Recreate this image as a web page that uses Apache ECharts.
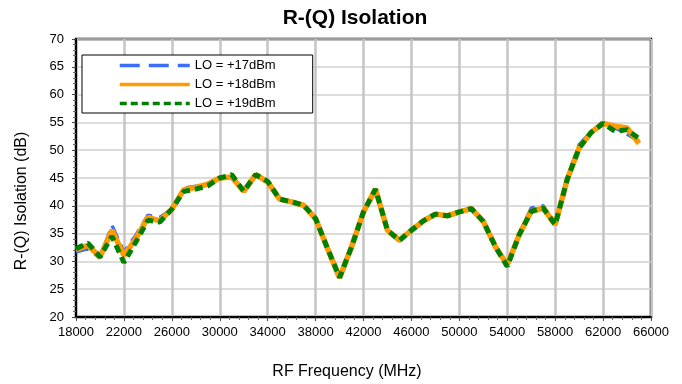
<!DOCTYPE html>
<html>
<head>
<meta charset="utf-8">
<script src="https://cdn.jsdelivr.net/npm/echarts@6/dist/echarts.min.js"></script>
<style>html,body{margin:0;padding:0;background:#fff;}#c{width:682px;height:384px;}</style>
</head>
<body>
<div id="c"></div>
<script>
var freq = [18000,19000,20000,21000,22000,23000,24000,25000,26000,27000,28000,29000,30000,31000,32000,33000,34000,35000,36000,37000,38000,39000,40000,41000,42000,43000,44000,45000,46000,47000,48000,49000,50000,51000,52000,53000,54000,55000,56000,57000,58000,59000,60000,61000,62000,63000,64000,65000];
var lo17 = [31.7,32.3,30.6,36.5,31.7,34.7,38.3,37.9,39.4,43.2,43.5,44.0,45.0,45.0,42.6,45.5,44.2,41.2,40.6,40.0,37.6,32.2,26.6,32.4,38.8,43.0,35.6,33.7,35.4,37.1,38.4,38.2,38.8,39.6,37.2,32.8,29.2,35.0,39.6,40.0,36.6,45.0,51.0,53.3,55.2,54.0,52.9,51.6];
var lo18 = [32.1,32.9,30.8,35.6,31.1,34.1,37.9,37.3,39.4,42.9,43.3,43.9,45.0,45.2,42.6,45.6,44.3,41.2,40.7,40.1,37.7,32.3,27.1,32.6,38.9,43.0,35.6,33.8,35.6,37.3,38.5,38.2,38.9,39.5,37.2,32.7,29.4,34.8,39.0,39.6,36.6,44.7,50.4,53.2,54.8,54.3,54.0,51.2];
var lo19 = [32.3,33.3,30.8,34.5,29.8,33.5,37.4,37.1,39.4,42.6,43.0,43.6,45.0,45.6,42.6,45.6,44.4,41.2,40.7,40.1,37.7,32.3,27.1,32.6,38.9,43.0,35.6,33.8,35.6,37.3,38.5,38.2,38.9,39.5,37.2,32.7,29.1,34.8,39.0,39.6,36.6,44.7,50.4,53.2,54.8,53.4,53.7,52.1];
var xTickLabels = ['18000','22000','26000','30000','34000','38000','42000','46000','50000','54000','58000','62000','66000'];
var seriesNames = ['LO = +17dBm','LO = +18dBm','LO = +19dBm'];

function pairs(ys){ return freq.map(function(f,i){ return [f, ys[i]]; }); }
var FONT = 'Liberation Sans, Arial, Helvetica, sans-serif';
var chart = echarts.init(document.getElementById('c'));
chart.setOption({
  backgroundColor: '#fff',
  animation: false,
  grid: { left: 76, right: 31, top: 39, bottom: 67, show: true, borderColor: '#000', borderWidth: 2.5, backgroundColor: '#fff' },
  graphic: [
    { type: 'text', x: 355, y: 18, style: { text: 'R-(Q) Isolation', font: 'bold 21px ' + FONT, fill: '#000', textAlign: 'center', textVerticalAlign: 'middle' } },
    { type: 'text', x: 347, y: 372, style: { text: 'RF Frequency (MHz)', font: '16px ' + FONT, fill: '#000', textAlign: 'center', textVerticalAlign: 'middle' } },
    { type: 'text', x: 22, y: 201, rotation: Math.PI / 2, style: { text: 'R-(Q) Isolation (dB)', font: '16px ' + FONT, fill: '#000', textAlign: 'center', textVerticalAlign: 'middle' } }
  ],
  legend: {
    left: 82, top: 55, orient: 'vertical',
    backgroundColor: '#fff', borderColor: '#000', borderWidth: 1,
    padding: [4, 37, 3, 36], itemWidth: 70, itemHeight: 14, itemGap: 6,
    itemStyle: { opacity: 0 },
    textStyle: { fontSize: 13, color: '#000', fontFamily: FONT },
    data: [
      { name: seriesNames[0], lineStyle: { width: 3.5, type: [20, 9] } },
      { name: seriesNames[1], lineStyle: { width: 3.5 } },
      { name: seriesNames[2], lineStyle: { width: 3.5, type: [7, 4] } }
    ]
  },
  xAxis: [
    { type: 'value', min: 18000, max: 66000, show: false, splitLine: { show: false } },
    { type: 'value', min: 0, max: 48000, interval: 4000, position: 'bottom',
      axisLine: { show: true, lineStyle: { color: '#000', width: 2 } },
      axisTick: { show: true, inside: false, length: 4, lineStyle: { color: '#444' } },
      minorTick: { show: true, splitNumber: 5, length: 3, lineStyle: { color: '#666' } },
      axisLabel: { margin: 9, fontSize: 13, color: '#000', fontFamily: FONT, formatter: function (v) { return xTickLabels[Math.round(v / 4000)]; } },
      splitLine: { show: true, lineStyle: { color: '#c4c4c4', width: 2.5 } }
    }
  ],
  yAxis: {
    type: 'value', min: 20, max: 70, interval: 5,
    axisLine: { show: true, lineStyle: { color: '#000', width: 2 } },
    axisTick: { show: true, inside: false, length: 4, lineStyle: { color: '#444' } },
    minorTick: { show: true, splitNumber: 5, length: 3, lineStyle: { color: '#666' } },
    axisLabel: { margin: 12, fontSize: 13, color: '#000', fontFamily: FONT },
    splitLine: { show: true, lineStyle: { color: '#d0d0d0', width: 1.5 } }
  },
  series: [
    { name: seriesNames[0], type: 'line', xAxisIndex: 0, data: pairs(lo17), symbol: 'none', z: 2,
      lineStyle: { color: '#3d6ef7', width: 3.5, type: [14, 7] }, itemStyle: { color: '#3d6ef7' } },
    { name: seriesNames[1], type: 'line', xAxisIndex: 0, data: pairs(lo18), symbol: 'none', z: 3,
      lineStyle: { color: '#ff9a00', width: 5.5 }, itemStyle: { color: '#ff9a00' } },
    { name: seriesNames[2], type: 'line', xAxisIndex: 0, data: pairs(lo19), symbol: 'none', z: 4,
      lineStyle: { color: '#008000', width: 5, type: [8, 5] }, itemStyle: { color: '#008000' } }
  ]
});
</script>
</body>
</html>
